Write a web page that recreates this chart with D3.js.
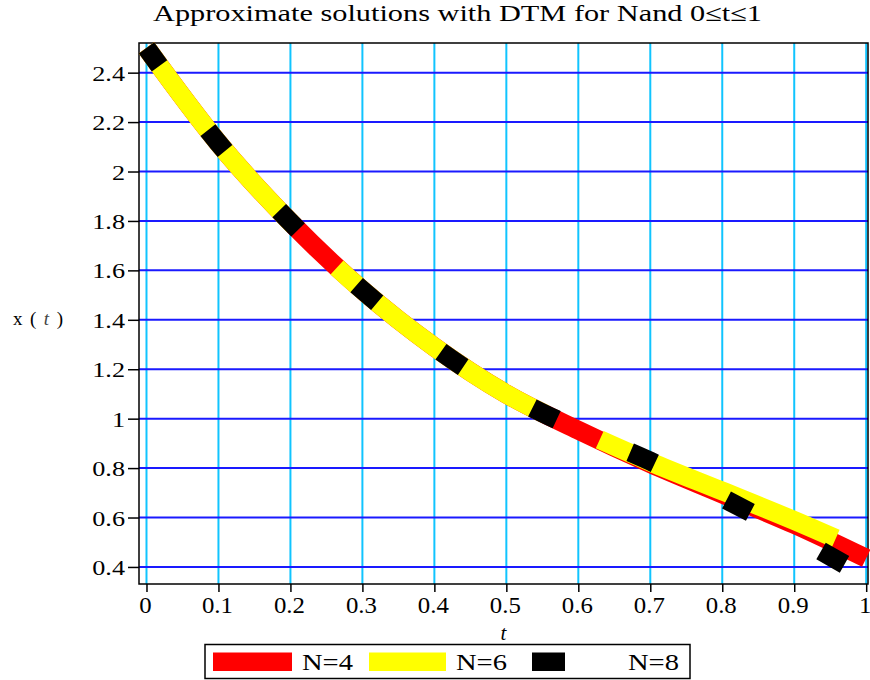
<!DOCTYPE html>
<html>
<head>
<meta charset="utf-8">
<script src="https://cdn.jsdelivr.net/npm/d3@7"></script>
<style>
  body { margin: 0; background: #fff; }
  svg { display: block; }
  text { font-family: "Liberation Serif", "Times New Roman", serif; fill: #000; }
</style>
</head>
<body>
<svg id="chart" width="870" height="680"></svg>
<script>
// values, t on a 0.1 step
const tValues = [0, 0.1, 0.2, 0.3, 0.4, 0.5, 0.6, 0.7, 0.8, 0.9, 1.0]
const n4 = [2.50, 2.115, 1.795, 1.52, 1.29, 1.10, 0.953, 0.818, 0.695, 0.572, 0.435]
const n6 = [2.50, 2.115, 1.795, 1.52, 1.29, 1.10, 0.955, 0.825, 0.707, 0.588, 0.46]
const n8 = [2.50, 2.115, 1.795, 1.52, 1.29, 1.10, 0.955, 0.828, 0.68, 0.525, 0.36]

const seriesNames = ['N=4', 'N=6', 'N=8']

const xTicks = [0, 0.1, 0.2, 0.3, 0.4, 0.5, 0.6, 0.7, 0.8, 0.9, 1]
const xTickLabels = ['0', '0.1', '0.2', '0.3', '0.4', '0.5', '0.6', '0.7', '0.8', '0.9', '1']
const yTicks = [0.4, 0.6, 0.8, 1, 1.2, 1.4, 1.6, 1.8, 2, 2.2, 2.4]
const yTickLabels = ['0.4', '0.6', '0.8', '1', '1.2', '1.4', '1.6', '1.8', '2', '2.2', '2.4']

const svg = d3.select('#chart'),
      fr  = { left: 139, right: 868, top: 43, bottom: 584 },
      x   = d3.scaleLinear().domain([-0.0104, 1.0025]).range([fr.left, fr.right]),
      y   = d3.scaleLinear().domain([0.331, 2.52]).range([fr.bottom, fr.top])

// grid
svg.append('g').selectAll('line').data(xTicks).join('line')
  .attr('x1', d => x(d)).attr('x2', d => x(d))
  .attr('y1', fr.top).attr('y2', fr.bottom)
  .attr('stroke', '#10c4ff').attr('stroke-width', 2)

svg.append('g').selectAll('line').data(yTicks).join('line')
  .attr('x1', fr.left).attr('x2', fr.right)
  .attr('y1', d => y(d)).attr('y2', d => y(d))
  .attr('stroke', '#1a1aff').attr('stroke-width', 2)

svg.append('rect')
  .attr('x', fr.left).attr('y', fr.top)
  .attr('width', fr.right - fr.left).attr('height', fr.bottom - fr.top)
  .attr('fill', 'none').attr('stroke', '#000').attr('stroke-width', 1.5)

// axes
let ay = svg.append('g')
  .attr('transform', 'translate(' + fr.left + ',0)')
  .call(d3.axisLeft(y).tickValues(yTicks).tickFormat((d, i) => yTickLabels[i]).tickSize(11))
ay.select('.domain').remove()
ay.selectAll('line').attr('stroke', '#000').attr('stroke-width', 1.5)
ay.selectAll('text')
  .attr('x', null).attr('dy', null)
  .attr('font-family', null).attr('font-size', 20)
  .attr('text-anchor', 'end')
  .attr('transform', 'translate(-14,7.5) scale(1.31,1)')

let ax = svg.append('g')
  .attr('transform', 'translate(0,' + fr.bottom + ')')
  .call(d3.axisBottom(x).tickValues(xTicks).tickFormat((d, i) => xTickLabels[i]).tickSize(8))
ax.select('.domain').remove()
ax.selectAll('line').attr('stroke', '#000').attr('stroke-width', 1.5)
ax.selectAll('text')
  .attr('y', null).attr('dy', null)
  .attr('font-family', null).attr('font-size', 23)
  .attr('transform', 'translate(-1.5,29) scale(1.08,1)')

// labels
svg.append('text')
  .attr('x', 153).attr('y', 21)
  .attr('font-size', 23)
  .attr('textLength', 609).attr('lengthAdjust', 'spacingAndGlyphs')
  .text('Approximate solutions with DTM for Nand 0≤t≤1')

let yl = svg.append('text')
  .attr('x', 13).attr('y', 325)
  .attr('font-size', 19)
  .attr('textLength', 50).attr('lengthAdjust', 'spacing')
yl.append('tspan').text('x ( ')
yl.append('tspan').attr('font-style', 'italic').attr('fill', '#444').text('t')
yl.append('tspan').text(' )')

svg.append('text')
  .attr('x', (x(0.5) - 3)).attr('y', 640)
  .attr('font-size', 21).attr('font-style', 'italic')
  .attr('text-anchor', 'middle')
  .text('t')

// curves
const series = [
  { name: seriesNames[0], values: n4, color: '#ff0000', dash: null,       offset: 0 },
  { name: seriesNames[1], values: n6, color: '#ffff00', dash: '256 60',   offset: 25 },
  { name: seriesNames[2], values: n8, color: '#000000', dash: '27 80.5',  offset: 5 }
]

const line = d3.line()
  .x((d, i) => x(tValues[i]))
  .y(d => y(d))
  .curve(d3.curveMonotoneX)

svg.append('g').selectAll('path').data(series).join('path')
  .attr('d', d => line(d.values))
  .attr('fill', 'none')
  .attr('stroke', d => d.color)
  .attr('stroke-width', 19)
  .attr('stroke-linecap', 'butt')
  .attr('stroke-linejoin', 'round')
  .attr('stroke-dasharray', d => d.dash)
  .attr('stroke-dashoffset', d => d.offset)

// legend
let lg = svg.append('g')
lg.append('rect')
  .attr('x', 205).attr('y', 644.5).attr('width', 485).attr('height', 34)
  .attr('fill', '#fff').attr('stroke', '#000').attr('stroke-width', 1.5)

const legendItems = [
  { sx: 213, sw: 79, tx: 302 },
  { sx: 369, sw: 77, tx: 456 },
  { sx: 532, sw: 33, tx: 628 }
]
legendItems.forEach((it, i) => {
  lg.append('rect')
    .attr('x', it.sx).attr('y', 652.5).attr('width', it.sw).attr('height', 18.5)
    .attr('fill', series[i].color)
  lg.append('text')
    .attr('x', it.tx).attr('y', 670)
    .attr('font-size', 24)
    .attr('textLength', 51).attr('lengthAdjust', 'spacingAndGlyphs')
    .text(series[i].name)
})
</script>
</body>
</html>
